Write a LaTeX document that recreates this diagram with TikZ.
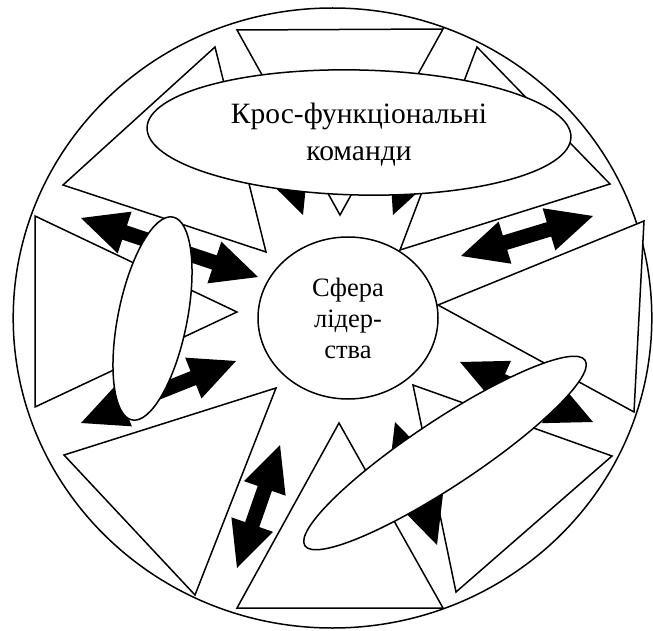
\documentclass[tikz,border=0pt]{standalone}
\usepackage{fontspec}
\setmainfont{Liberation Serif}
\usetikzlibrary{calc,shapes.geometric}
\tikzset{
  outline/.style={draw=black, line width=1.5pt, fill=white, line join=miter},
  oval/.style={ellipse, outline, inner sep=0pt, outer sep=0pt},
  arrowfill/.style={fill=black},
}
\newcommand\dblarrow[2]{%
  \fill[arrowfill] (#1)
   -- ($(#1)!46pt!(#2)!22pt!90:(#2)$)
   -- ($(#1)!46pt!(#2)!7.5pt!90:(#2)$)
   -- ($(#2)!46pt!(#1)!7.5pt!-90:(#1)$)
   -- ($(#2)!46pt!(#1)!22pt!-90:(#1)$)
   -- (#2)
   -- ($(#2)!46pt!(#1)!22pt!90:(#1)$)
   -- ($(#2)!46pt!(#1)!7.5pt!90:(#1)$)
   -- ($(#1)!46pt!(#2)!7.5pt!-90:(#2)$)
   -- ($(#1)!46pt!(#2)!22pt!-90:(#2)$)
   -- cycle;}
\begin{document}
\begin{tikzpicture}[x=1pt,y=-1pt]
\useasboundingbox (0,0) rectangle (653,631);
% outer circle
\draw[outline] (332.5,318) ellipse [x radius=319.3, y radius=310];
% triangles
\draw[outline] (237,30) -- (443,29) -- (340,215) -- cycle;
\draw[outline] (215,47) -- (63,185) -- (266,252) -- cycle;
\draw[outline] (477,47) -- (610,184) -- (400,250) -- cycle;
\draw[outline] (438,305) -- (644,221) -- (634,412) -- cycle;
\draw[outline] (413,385) -- (612,456) -- (456,592) -- cycle;
\draw[outline] (339,423) -- (237,608) -- (443,608) -- cycle;
\draw[outline] (276,388) -- (64,455) -- (195,595) -- cycle;
\draw[outline] (35,216) -- (35,407) -- (237,312) -- cycle;
% centre
\node[oval, minimum width=180pt, minimum height=162pt, align=center,
      font=\fontsize{26.5}{31}\selectfont] (core) at (348,318) {Сфера\\лідер-\\ства};
% arrows
\coordinate (a1) at (81,218);  \coordinate (a2) at (258,277);
\coordinate (b1) at (461,256); \coordinate (b2) at (593,216);
\coordinate (c1) at (81,423);  \coordinate (c2) at (236,361);
\coordinate (d1) at (280,445); \coordinate (d2) at (237,568);
\coordinate (e1) at (303,215); \coordinate (e2) at (266,112);
\coordinate (f1) at (393,215); \coordinate (f2) at (434,113);
\coordinate (g1) at (460,362); \coordinate (g2) at (593,422);
\coordinate (h1) at (395,422); \coordinate (h2) at (437,545);
\dblarrow{a1}{a2}
\dblarrow{b1}{b2}
\dblarrow{c1}{c2}
\dblarrow{d1}{d2}
\dblarrow{e1}{e2}
\dblarrow{f1}{f2}
\dblarrow{g1}{g2}
\dblarrow{h1}{h2}
% ovals
\node[oval, minimum width=424pt, minimum height=125pt, rotate=-1.3] (teams) at (359,132.5) {};
\node[align=center, font=\fontsize{29.5}{37}\selectfont] (teamstext) at (359,134.5) {Крос-функціональні\\команди};
\node[oval, minimum width=69pt, minimum height=207pt, rotate=-11.4] (leftoval) at (152.5,318.5) {};
\node[oval, minimum width=336pt, minimum height=66pt, rotate=33.5] (rightoval) at (445,453) {};
\end{tikzpicture}
\end{document}
